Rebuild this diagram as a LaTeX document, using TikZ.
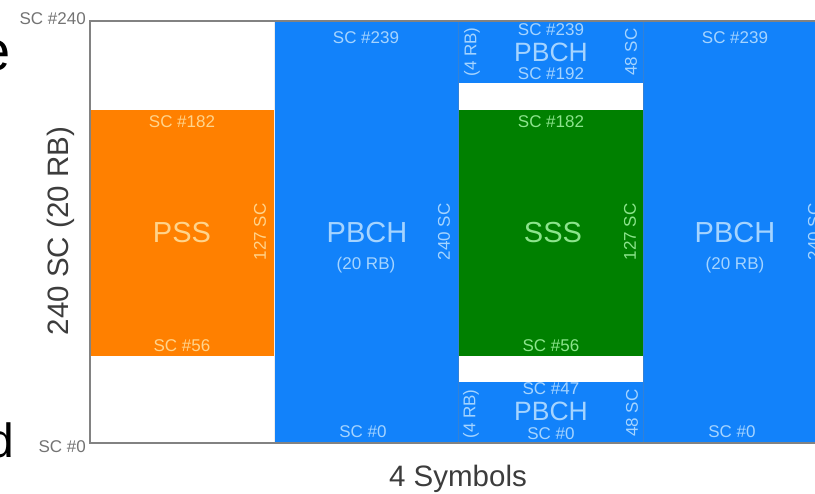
\documentclass[tikz,border=0pt]{standalone}
\usepackage{fontspec}
\setmainfont{Liberation Sans}
\definecolor{sblue}{RGB}{18,130,250}
\definecolor{sorange}{RGB}{255,128,0}
\definecolor{sgreen}{RGB}{0,128,0}
\definecolor{tblue}{RGB}{165,212,255}
\definecolor{torange}{RGB}{255,212,140}
\definecolor{tgreen}{RGB}{140,228,140}
\definecolor{framegray}{RGB}{130,130,130}
\definecolor{labgray}{RGB}{60,60,60}
\definecolor{sclab}{RGB}{115,115,115}
\begin{document}
\begin{tikzpicture}[x=1pt,y=-1pt,
  sm/.style={font=\fontsize{17}{19}\selectfont, inner sep=0pt},
  rot/.style={font=\fontsize{17}{19}\selectfont, inner sep=0pt, rotate=90},
  big/.style={font=\fontsize{29}{31}\selectfont, inner sep=0pt},
  mid/.style={font=\fontsize{26.5}{28}\selectfont, inner sep=0pt},
  axis/.style={font=\fontsize{29.5}{31}\selectfont, inner sep=0pt, text=labgray},
  onblue/.style={text=tblue},
  onorange/.style={text=torange},
  ongreen/.style={text=tgreen}]
\useasboundingbox (0,0) rectangle (815,494);
\clip (0,0) rectangle (815,494);
% blocks
\fill[white] (90,21) rectangle (274,443);
\fill[sorange] (90,110) rectangle (274,356);
\fill[sblue] (274,21) rectangle (458,443);
\fill[sblue] (458,21) rectangle (643,83);
\fill[white] (458,83) rectangle (643,110);
\fill[sgreen] (458,110) rectangle (643,356);
\fill[white] (458,356) rectangle (643,382);
\fill[sblue] (458,382) rectangle (643,443);
\fill[sblue] (643,21) rectangle (830,443);
% dividers and frame
\draw[white!85!gray, line width=1.2] (274.5,21) -- (274.5,443);
\draw[sblue!70!gray, line width=1] (458,21) -- (458,443);
\draw[sblue!70!gray, line width=1] (643,21) -- (643,443);
\draw[framegray, line width=1.6] (90,21) rectangle (830,443);
% outside labels
\node[sm, text=sclab, anchor=east] (sc240) at (86,19) {SC \#240};
\node[sm, text=sclab, anchor=east] (sc0) at (86,447) {SC \#0};
\node[axis, rotate=90] (axisy) at (61,231) {240 SC (20 RB)};
\node[axis] (axisx) at (458,479) {4 Symbols};
\node[font=\fontsize{56}{60}\selectfont, inner sep=0pt, anchor=east] (pe) at (11,56) {e};
\node[font=\fontsize{48}{52}\selectfont, inner sep=0pt, anchor=east] (pd) at (14,440) {d};
% column 1
\node[sm, onorange] (c1top) at (182,122) {SC \#182};
\node[big, onorange] (pss) at (182,233) {PSS};
\node[rot, onorange] (c1w) at (260,232) {127 SC};
\node[sm, onorange] (c1bot) at (182,346) {SC \#56};
% column 2
\node[sm, onblue] (c2top) at (366,38) {SC \#239};
\node[big, onblue] (pbch2) at (367,233) {PBCH};
\node[sm, onblue] (rb2) at (366,265) {(20 RB)};
\node[rot, onblue] (c2w) at (444,232) {240 SC};
\node[sm, onblue] (c2bot) at (363,432) {SC \#0};
% column 3 top
\node[rot, onblue] (c3rbt) at (472,52) {(4 RB)};
\node[sm, onblue] (c3t1) at (551,30) {SC \#239};
\node[mid, onblue] (pbch3t) at (551,52) {PBCH};
\node[sm, onblue] (c3t2) at (551,74) {SC \#192};
\node[rot, onblue] (c3wt) at (631,52) {48 SC};
% column 3 green
\node[sm, ongreen] (c3g1) at (551,122) {SC \#182};
\node[big, ongreen] (sss) at (553,233) {SSS};
\node[rot, ongreen] (c3gw) at (630,232) {127 SC};
\node[sm, ongreen] (c3g2) at (551,346) {SC \#56};
% column 3 bottom
\node[rot, onblue] (c3rbb) at (471,414) {(4 RB)};
\node[sm, onblue] (c3b1) at (551,389) {SC \#47};
\node[mid, onblue] (pbch3b) at (551,411) {PBCH};
\node[sm, onblue] (c3b2) at (551,434) {SC \#0};
\node[rot, onblue] (c3wb) at (632,413) {48 SC};
% column 4
\node[sm, onblue] (c4top) at (735,38) {SC \#239};
\node[big, onblue] (pbch4) at (735,233) {PBCH};
\node[sm, onblue] (rb4) at (735,265) {(20 RB)};
\node[rot, onblue] (c4w) at (814,232) {240 SC};
\node[sm, onblue] (c4bot) at (732,432) {SC \#0};
\end{tikzpicture}
\end{document}
